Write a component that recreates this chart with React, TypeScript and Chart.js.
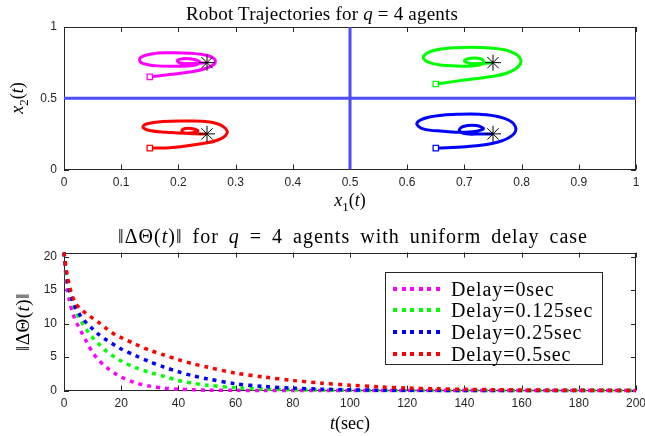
import React, { useEffect, useRef } from "react";
import { Chart, registerables } from "chart.js";
Chart.register(...registerables);

// ---------- Top chart data: robot trajectories ----------
const magentaPath: number[][] = [
  [0.15, 0.65], [0.185, 0.667], [0.22, 0.684], [0.246, 0.707], [0.263, 0.741], [0.263, 0.776],
  [0.249, 0.802], [0.22, 0.816], [0.185, 0.819], [0.153, 0.811], [0.133, 0.783], [0.135, 0.75],
  [0.158, 0.729], [0.196, 0.724], [0.228, 0.731], [0.237, 0.755], [0.226, 0.774], [0.208, 0.778],
  [0.198, 0.764], [0.205, 0.745], [0.231, 0.745], [0.25, 0.75],
];
const greenPath: number[][] = [
  [0.65, 0.6], [0.689, 0.622], [0.735, 0.646], [0.776, 0.679], [0.798, 0.741], [0.794, 0.797],
  [0.77, 0.84], [0.73, 0.856], [0.683, 0.854], [0.645, 0.833], [0.628, 0.788], [0.639, 0.75],
  [0.671, 0.729], [0.712, 0.726], [0.734, 0.745], [0.73, 0.774], [0.712, 0.781], [0.7, 0.764],
  [0.709, 0.745], [0.733, 0.745], [0.75, 0.75],
];
const redPath: number[][] = [
  [0.15, 0.15], [0.19, 0.155], [0.237, 0.179], [0.269, 0.207], [0.285, 0.255], [0.278, 0.302],
  [0.255, 0.333], [0.214, 0.34], [0.173, 0.337], [0.144, 0.319], [0.138, 0.297], [0.15, 0.274],
  [0.179, 0.262], [0.214, 0.255], [0.234, 0.269], [0.223, 0.288], [0.208, 0.283], [0.207, 0.26],
  [0.231, 0.25], [0.25, 0.25],
];
const bluePath: number[][] = [
  [0.65, 0.15], [0.703, 0.16], [0.75, 0.184], [0.779, 0.226], [0.79, 0.285], [0.776, 0.349],
  [0.738, 0.385], [0.686, 0.387], [0.639, 0.368], [0.617, 0.326], [0.628, 0.285], [0.663, 0.269],
  [0.703, 0.262], [0.733, 0.285], [0.721, 0.309], [0.698, 0.302], [0.691, 0.274], [0.703, 0.25],
  [0.73, 0.25], [0.75, 0.25],
];
const startPoints: number[][] = [[0.15, 0.65], [0.65, 0.6], [0.15, 0.15], [0.65, 0.15]];
const targetPoints: number[][] = [[0.25, 0.75], [0.75, 0.75], [0.25, 0.25], [0.75, 0.25]];
const dividerVertical: number[][] = [[0.5, 0], [0.5, 1]];
const dividerHorizontal: number[][] = [[0, 0.5], [1, 0.5]];
const topXTicks = [0, 0.1, 0.2, 0.3, 0.4, 0.5, 0.6, 0.7, 0.8, 0.9, 1];
const topYTicks = [0, 0.5, 1];

// ---------- Bottom chart data: ||ΔΘ(t)|| ----------
const times = [0, 1, 2, 3, 4, 5, 6, 8, 10, 12, 15, 18, 20, 25, 30, 35, 40, 45, 50, 60, 70, 80, 90, 100, 110, 120, 130, 140, 150, 160, 170, 180, 190, 200];
const delay0 = [20.6, 15.5, 13.2, 11.6, 10.5, 9.6, 8.8, 7.2, 5.7, 4.6, 3.4, 2.5, 2.0, 1.15, 0.65, 0.35, 0.2, 0.1, 0.05, 0.02, 0.01, 0, 0, 0, 0, 0, 0, 0, 0, 0, 0, 0, 0, 0];
const delay0125 = [20.6, 16.5, 14.6, 13.2, 12.0, 11.0, 10.3, 9.0, 7.9, 7.0, 5.8, 4.9, 4.4, 3.4, 2.7, 2.1, 1.5, 1.1, 0.8, 0.4, 0.2, 0.1, 0.05, 0.02, 0.01, 0, 0, 0, 0, 0, 0, 0, 0, 0];
const delay025 = [20.6, 17.0, 14.7, 13.4, 12.4, 11.7, 11.0, 10.0, 9.2, 8.4, 7.5, 6.7, 6.2, 5.2, 4.3, 3.5, 2.8, 2.2, 1.75, 1.0, 0.6, 0.35, 0.2, 0.1, 0.05, 0.03, 0.02, 0.01, 0, 0, 0, 0, 0, 0];
const delay05 = [20.6, 17.5, 15.5, 14.0, 13.0, 12.5, 12.1, 11.4, 10.8, 10.2, 9.2, 8.3, 7.9, 6.9, 6.0, 5.3, 4.6, 4.0, 3.5, 2.6, 2.0, 1.5, 1.1, 0.8, 0.55, 0.38, 0.26, 0.18, 0.12, 0.08, 0.05, 0.03, 0.02, 0.01];
const legendLabels = ["Delay=0sec", "Delay=0.125sec", "Delay=0.25sec", "Delay=0.5sec"];
const bottomXTicks = [0, 20, 40, 60, 80, 100, 120, 140, 160, 180, 200];
const bottomYTicks = [0, 5, 10, 15, 20];

const MAGENTA = "#ff00ff";
const GREEN = "#00ff00";
const BLUE = "#0000ff";
const RED = "#ff0000";
const DIVIDER = "#4d4dff";
const AXIS = "#262626";
const tickFont = { family: "'Liberation Sans', Arial, sans-serif", size: 12 };
const serif = "'Liberation Serif', 'Times New Roman', serif";

const toXY = (arr: number[][]) => arr.map(([x, y]) => ({ x, y }));

const boxTicks = {
  id: "boxTicks",
  beforeDatasetsDraw(chart: any) {
    const { ctx, chartArea: a, scales } = chart;
    const xs = scales.x;
    const ys = scales.y;
    const len = 5;
    ctx.save();
    ctx.strokeStyle = AXIS;
    ctx.lineWidth = 1;
    ctx.beginPath();
    xs.ticks.forEach((t: any) => {
      const p = Math.round(xs.getPixelForValue(t.value)) + 0.5;
      ctx.moveTo(p, a.bottom);
      ctx.lineTo(p, a.bottom - len);
      ctx.moveTo(p, a.top);
      ctx.lineTo(p, a.top + len);
    });
    ys.ticks.forEach((t: any) => {
      const p = Math.round(ys.getPixelForValue(t.value)) + 0.5;
      ctx.moveTo(a.left, p);
      ctx.lineTo(a.left + len, p);
      ctx.moveTo(a.right, p);
      ctx.lineTo(a.right - len, p);
    });
    ctx.stroke();
    ctx.strokeRect(Math.round(a.left) + 0.5, Math.round(a.top) + 0.5, Math.round(a.right - a.left) - 1, Math.round(a.bottom - a.top) - 1);
    ctx.restore();
  },
};

function axisConfig(ticks: number[], min: number, max: number, isX: boolean, fixed: number) {
  return {
    type: "linear",
    min,
    max,
    grid: { display: false, drawTicks: false },
    border: { display: false },
    ticks: {
      font: tickFont,
      color: AXIS,
      padding: isX ? 6 : 7,
      maxRotation: 0,
      autoSkip: false,
      callback: (v: number) => String(Math.round(v * 1000) / 1000),
    },
    afterBuildTicks: (s: any) => {
      s.ticks = ticks.map((v) => ({ value: v }));
    },
    afterFit: (s: any) => {
      if (isX) {
        s.height = fixed;
        s.paddingLeft = 0;
        s.paddingRight = 0;
      } else {
        s.width = fixed;
        s.paddingTop = 0;
        s.paddingBottom = 0;
      }
    },
  };
}

function TopChart() {
  const ref = useRef<HTMLCanvasElement>(null);
  useEffect(() => {
    const trajectory = (path: number[][], color: string) => ({
      data: toXY(path),
      showLine: true,
      borderColor: color,
      borderWidth: 3,
      pointRadius: 0,
      tension: 0.4,
      fill: false,
    });
    const chart = new Chart(ref.current as HTMLCanvasElement, {
      type: "scatter",
      data: {
        datasets: [
          {
            data: toXY(targetPoints),
            pointStyle: "star",
            pointRadius: 8,
            borderColor: "#000000",
            backgroundColor: "#000000",
            pointBorderWidth: 1,
            showLine: false,
          },
          {
            data: toXY(startPoints),
            pointStyle: "rect",
            pointRadius: 3.8,
            pointBorderWidth: 1.3,
            borderColor: [MAGENTA, GREEN, RED, BLUE],
            pointBorderColor: [MAGENTA, GREEN, RED, BLUE],
            pointBackgroundColor: "#ffffff",
            showLine: false,
          },
          trajectory(magentaPath, MAGENTA),
          trajectory(greenPath, GREEN),
          trajectory(redPath, RED),
          trajectory(bluePath, BLUE),
          { data: toXY(dividerVertical), showLine: true, borderColor: DIVIDER, borderWidth: 3, pointRadius: 0 },
          { data: toXY(dividerHorizontal), showLine: true, borderColor: DIVIDER, borderWidth: 3, pointRadius: 0 },
        ] as any,
      },
      options: {
        responsive: false,
        animation: false,
        devicePixelRatio: 1,
        layout: { padding: { left: 0, right: 9, top: 27, bottom: 0 } },
        plugins: { legend: { display: false }, tooltip: { enabled: false } },
        scales: {
          x: axisConfig(topXTicks, 0, 1, true, 30.5),
          y: axisConfig(topYTicks, 0, 1, false, 64),
        } as any,
      },
      plugins: [boxTicks],
    });
    return () => chart.destroy();
  }, []);
  return <canvas ref={ref} width={645} height={200} style={{ position: "absolute", left: 0, top: 0 }} />;
}

function BottomChart() {
  const ref = useRef<HTMLCanvasElement>(null);
  useEffect(() => {
    const series = (vals: number[], color: string) => ({
      data: times.map((t, i) => ({ x: t, y: vals[i] })),
      showLine: true,
      borderColor: color,
      borderWidth: 3.5,
      borderDash: [4, 5],
      borderCapStyle: "butt",
      pointRadius: 0,
      tension: 0.3,
      clip: false,
      fill: false,
    });
    const chart = new Chart(ref.current as HTMLCanvasElement, {
      type: "scatter",
      data: {
        datasets: [
          series(delay05, RED),
          series(delay025, BLUE),
          series(delay0125, GREEN),
          series(delay0, MAGENTA),
        ] as any,
      },
      options: {
        responsive: false,
        animation: false,
        devicePixelRatio: 1,
        layout: { padding: { left: 0, right: 9, top: 37.5, bottom: 0 } },
        plugins: { legend: { display: false }, tooltip: { enabled: false } },
        scales: {
          x: axisConfig(bottomXTicks, 0, 200, true, 45.5),
          y: axisConfig(bottomYTicks, 0, 20.6, false, 64),
        } as any,
      },
      plugins: [boxTicks],
    });
    return () => chart.destroy();
  }, []);
  return <canvas ref={ref} width={645} height={221} style={{ position: "absolute", left: 0, top: 215 }} />;
}

const label = (x: number, y: number, size: number, rotate = false, extra: React.CSSProperties = {}): React.CSSProperties => ({
  position: "absolute",
  left: x,
  top: y,
  transform: `translate(-50%, -50%)${rotate ? " rotate(-90deg)" : ""}`,
  fontFamily: serif,
  fontSize: size,
  color: "#000",
  whiteSpace: "nowrap",
  lineHeight: 1,
  ...extra,
});

const legendColors = [MAGENTA, GREEN, BLUE, RED];

export default function App() {
  return (
    <div style={{ position: "absolute", left: 0, top: 0, width: 645, height: 436, background: "#fff", overflow: "hidden" }}>
      <TopChart />
      <BottomChart />
      <div style={label(322, 13, 19, false, { letterSpacing: 0.2 })}>
        Robot Trajectories for <i>q</i> = 4 agents
      </div>
      <div style={label(350, 202, 18)}>
        <i>x</i>
        <sub style={{ fontSize: 13 }}>1</sub>(<i>t</i>)
      </div>
      <div style={label(19, 98, 18, true)}>
        <i>x</i>
        <sub style={{ fontSize: 13 }}>2</sub>(<i>t</i>)
      </div>
      <div style={label(353, 236, 20, false, { letterSpacing: 1, wordSpacing: 4 })}>
        ‖ΔΘ(<i>t</i>)‖ for <i>q</i> = 4 agents with uniform delay case
      </div>
      <div style={label(22, 322, 19, true, { letterSpacing: 0.5 })}>
        ‖ΔΘ(<i>t</i>)‖
      </div>
      <div style={label(350, 423, 18)}>
        <i>t</i>(sec)
      </div>
      <div
        style={{
          position: "absolute",
          left: 385,
          top: 272,
          width: 218,
          height: 93,
          boxSizing: "border-box",
          border: `1px solid ${AXIS}`,
          background: "#fff",
        }}
      >
        {legendLabels.map((txt, i) => (
          <div key={txt} style={{ position: "absolute", left: 7, top: 5 + i * 21.7, height: 21, display: "flex", alignItems: "center" }}>
            <div
              style={{
                width: 49,
                height: 4,
                background: `repeating-linear-gradient(to right, ${legendColors[i]} 0 4px, transparent 4px 8.6px)`,
              }}
            />
            <span style={{ marginLeft: 9, fontFamily: serif, fontSize: 20, letterSpacing: 0.9, lineHeight: 1, color: "#000" }}>{txt}</span>
          </div>
        ))}
      </div>
    </div>
  );
}
